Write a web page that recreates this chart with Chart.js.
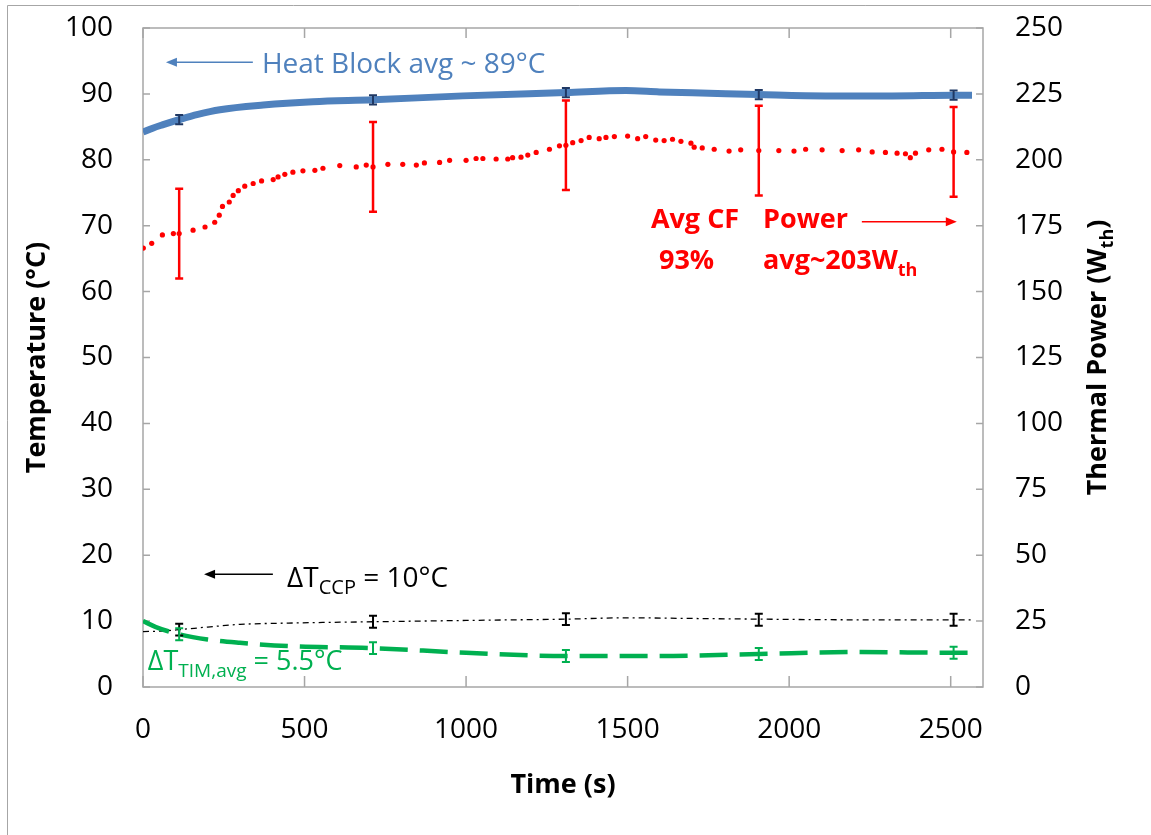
<!DOCTYPE html>
<html>
<head>
<meta charset="utf-8">
<script src="https://cdn.jsdelivr.net/npm/chart.js@4"></script>
<style>
  body { margin: 0; background: #fff; }
  #wrap { width: 1151px; height: 835px; position: relative; }
</style>
</head>
<body>
<div id="wrap"><canvas id="chart"></canvas></div>
<script>
// axis ticks
const xTicks = [0, 500, 1000, 1500, 2000, 2500];

// heat block temperature (°C)
const heatTime = [0, 30, 60, 112, 170, 238, 372, 526, 712, 990, 1309, 1495, 1598, 1752, 1906, 2113, 2318, 2509, 2566];
const heatTemp = [84.2, 84.8, 85.3, 86.1, 86.9, 87.6, 88.3, 88.8, 89.1, 89.7, 90.2, 90.5, 90.3, 90.1, 89.9, 89.7, 89.7, 89.8, 89.8];

// thermal power (W_th), right axis
const powerTime = [1, 27, 60, 94, 112, 155, 192, 222, 236, 246, 267, 279, 295, 315, 341, 367, 403, 418, 439, 464,
  495, 532, 557, 609, 660, 691, 712, 758, 804, 846, 871, 918, 949, 1000, 1031, 1052, 1093, 1129, 1144, 1170,
  1191, 1217, 1258, 1289, 1309, 1330, 1356, 1381, 1412, 1433, 1459, 1500, 1531, 1556, 1587, 1613, 1639, 1665,
  1696, 1706, 1731, 1768, 1814, 1850, 1906, 1968, 2015, 2051, 2102, 2164, 2215, 2257, 2298, 2334, 2360, 2375,
  2391, 2432, 2473, 2509, 2550];
const powerW = [166.5, 168.3, 171.5, 172, 172, 173.3, 174.5, 176.3, 179, 182.3, 184, 186.5, 188.3, 190, 191, 192, 192.5, 193.5, 194.5, 195.3,
  195.8, 196, 196.8, 197.8, 197.3, 198, 197.3, 198.3, 198.3, 198, 198.8, 199, 199.8, 199.8, 200.5, 200.5, 200.3, 200.3, 200.8, 201,
  201.8, 202.8, 204, 205.3, 205.5, 206.5, 207.3, 208.5, 208, 208.5, 208.8, 209, 208, 208.8, 207.5, 207.3, 207.8, 207,
  206.3, 204.8, 204.5, 204, 203.3, 203.8, 203.5, 203.5, 203.3, 204, 203.8, 203.5, 203.8, 203, 202.8, 202.5, 202.3, 200.8,
  202.5, 203.8, 204, 203, 202.8];

// delta T CCP (°C)
const ccpTime = [0, 60, 112, 200, 300, 450, 712, 1000, 1309, 1500, 1700, 1906, 2200, 2509, 2570];
const ccpTemp = [8.4, 8.5, 8.7, 9.1, 9.5, 9.7, 9.9, 10.1, 10.3, 10.5, 10.4, 10.3, 10.2, 10.2, 10.2];

// delta T TIM (°C)
const timTime = [0, 40, 112, 200, 300, 450, 712, 1000, 1309, 1600, 1906, 2200, 2509, 2570];
const timTemp = [10.0, 9.1, 8.0, 7.2, 6.7, 6.2, 5.9, 5.2, 4.7, 4.7, 5.0, 5.3, 5.2, 5.2];

// error bars
const errTime = [112, 712, 1309, 1906, 2509];
const heatErrMid = [86.1, 89.1, 90.2, 89.9, 89.8];
const heatErr = 0.7;
const powerErrMid = [172, 197.3, 205.5, 203.5, 203];
const powerErr = 17;
const ccpErrMid = [8.7, 9.9, 10.3, 10.2, 10.2];
const ccpErr = 0.9;
const timErrMid = [8.0, 5.9, 4.7, 5.0, 5.2];
const timErr = 0.9;

const FONT = '"Open Sans", sans-serif';
const BLUE = '#4F81BD', RED = '#FF0000', GREEN = '#00B050';

function pts(xs, ys) { return xs.map((x, i) => ({ x: x, y: ys[i] })); }

function drawRich(ctx, parts, x, y, size, subSize, color, bold) {
    ctx.fillStyle = color;
    ctx.textBaseline = 'alphabetic';
    ctx.textAlign = 'left';
    parts.forEach(p => {
        const sz = p.sub ? subSize : size;
        ctx.font = (bold ? 'bold ' : '') + sz + 'px ' + FONT;
        ctx.fillText(p.t, x, p.sub ? y + size * 0.25 : y);
        x += ctx.measureText(p.t).width;
    });
}

function richWidth(ctx, parts, size, subSize, bold) {
    let w = 0;
    parts.forEach(p => {
        ctx.font = (bold ? 'bold ' : '') + (p.sub ? subSize : size) + 'px ' + FONT;
        w += ctx.measureText(p.t).width;
    });
    return w;
}

function arrow(ctx, x1, y, x2, color) {
    const dir = x2 > x1 ? 1 : -1;
    ctx.strokeStyle = color;
    ctx.fillStyle = color;
    ctx.lineWidth = 1.5;
    ctx.beginPath();
    ctx.moveTo(x1, y);
    ctx.lineTo(x2 - dir * 8, y);
    ctx.stroke();
    ctx.beginPath();
    ctx.moveTo(x2, y);
    ctx.lineTo(x2 - dir * 11, y - 4.5);
    ctx.lineTo(x2 - dir * 11, y + 4.5);
    ctx.closePath();
    ctx.fill();
}

const framePlugin = {
    id: 'frame',
    beforeDatasetsDraw(chart) {
        const ctx = chart.ctx;
        const { left, right, top, bottom } = chart.chartArea;
        const sx = chart.scales.x, sy = chart.scales.y, sy2 = chart.scales.y2;
        ctx.save();
        ctx.strokeStyle = '#A6A6A6';
        ctx.lineWidth = 1.5;
        ctx.strokeRect(left, top, right - left, bottom - top);
        ctx.beginPath();
        sx.ticks.forEach(t => {
            const px = sx.getPixelForValue(t.value);
            ctx.moveTo(px, bottom); ctx.lineTo(px, bottom - 11);
            ctx.moveTo(px, top); ctx.lineTo(px, top + 10);
        });
        sy.ticks.forEach(t => {
            const py = sy.getPixelForValue(t.value);
            ctx.moveTo(left, py); ctx.lineTo(left + 7, py);
        });
        sy2.ticks.forEach(t => {
            const py = sy2.getPixelForValue(t.value);
            ctx.moveTo(right, py); ctx.lineTo(right - 7, py);
        });
        ctx.stroke();
        // outer picture border
        ctx.lineWidth = 1;
        ctx.beginPath();
        ctx.moveTo(7.5, 835); ctx.lineTo(7.5, 5.5); ctx.lineTo(1151, 5.5);
        ctx.stroke();
        ctx.restore();
    },
    afterDatasetsDraw(chart) {
        const ctx = chart.ctx;
        const sx = chart.scales.x, sy = chart.scales.y, sy2 = chart.scales.y2;
        function bars(mids, err, scale, color, width) {
            ctx.strokeStyle = color;
            ctx.lineWidth = width;
            ctx.beginPath();
            errTime.forEach((t, i) => {
                const px = sx.getPixelForValue(t);
                const y1 = scale.getPixelForValue(mids[i] + err);
                const y2 = scale.getPixelForValue(mids[i] - err);
                ctx.moveTo(px, y1); ctx.lineTo(px, y2);
                ctx.moveTo(px - 4, y1); ctx.lineTo(px + 4, y1);
                ctx.moveTo(px - 4, y2); ctx.lineTo(px + 4, y2);
            });
            ctx.stroke();
        }
        ctx.save();
        bars(powerErrMid, powerErr, sy2, RED, 2.5);
        bars(ccpErrMid, ccpErr, sy, '#000000', 2);
        bars(timErrMid, timErr, sy, GREEN, 2);
        bars(heatErrMid, heatErr, sy, '#1F3864', 2);
        ctx.restore();
    },
    afterDraw(chart) {
        const ctx = chart.ctx;
        const sx = chart.scales.x, sy = chart.scales.y;
        const X = v => sx.getPixelForValue(v), Y = v => sy.getPixelForValue(v);
        ctx.save();

        // heat block annotation
        drawRich(ctx, [{ t: 'Heat Block avg ~ 89°C' }], X(368), Y(93.2), 28, 19, BLUE, false);
        arrow(ctx, X(340), Y(94.8), X(71), BLUE);

        // delta T CCP
        drawRich(ctx, [{ t: '\u0394T' }, { t: 'CCP', sub: true }, { t: ' = 10°C' }], X(446), Y(15.2), 28, 20, '#000000', false);
        arrow(ctx, X(402), Y(17.1), X(189), '#000000');

        // delta T TIM
        drawRich(ctx, [{ t: '\u0394T' }, { t: 'TIM,avg', sub: true }, { t: ' = 5.5°C' }], X(15), Y(2.6), 27, 19, GREEN, false);

        // red notes
        drawRich(ctx, [{ t: 'Avg CF' }], X(1572), Y(69.7), 27, 18, RED, true);
        drawRich(ctx, [{ t: '93%' }], X(1597), Y(63.4), 27, 18, RED, true);
        drawRich(ctx, [{ t: 'Power' }], X(1919), Y(69.7), 27, 18, RED, true);
        drawRich(ctx, [{ t: 'avg~203W' }, { t: 'th', sub: true }], X(1919), Y(63.4), 27, 18, RED, true);
        arrow(ctx, X(2225), Y(70.6), X(2519), RED);

        // axis titles
        const ca = chart.chartArea;
        const midY = (ca.top + ca.bottom) / 2;
        ctx.font = 'bold 27px ' + FONT;
        ctx.fillStyle = '#000';
        ctx.textAlign = 'center';
        ctx.textBaseline = 'middle';
        ctx.fillText('Time (s)', (ca.left + ca.right) / 2, ca.bottom + 98);

        ctx.save();
        ctx.translate(37, midY);
        ctx.rotate(-Math.PI / 2);
        ctx.fillText('Temperature (°C)', 0, 0);
        ctx.restore();

        const rParts = [{ t: 'Thermal Power (W' }, { t: 'th', sub: true }, { t: ')' }];
        ctx.save();
        ctx.translate(1106, midY);
        ctx.rotate(-Math.PI / 2);
        const w = richWidth(ctx, rParts, 27, 18, true);
        drawRich(ctx, rParts, -w / 2, 0, 27, 18, '#000', true);
        ctx.restore();

        ctx.restore();
    }
};

const tickFont = { family: FONT, size: 28 };

function fixV(width) {
    return function (s) {
        s.width = width;
        s.paddingTop = 0;
        s.paddingBottom = 0;
    };
}

new Chart(document.getElementById('chart'), {
    type: 'line',
    data: {
        datasets: [
            {
                label: 'Heat Block',
                data: pts(heatTime, heatTemp),
                borderColor: BLUE,
                borderWidth: 7,
                pointRadius: 0,
                cubicInterpolationMode: 'monotone',
                yAxisID: 'y'
            },
            {
                label: 'dT TIM',
                data: pts(timTime, timTemp),
                borderColor: GREEN,
                borderWidth: 4.5,
                borderDash: [28, 12],
                pointRadius: 0,
                cubicInterpolationMode: 'monotone',
                yAxisID: 'y'
            },
            {
                label: 'dT CCP',
                data: pts(ccpTime, ccpTemp),
                borderColor: '#000000',
                borderWidth: 1.3,
                borderDash: [6, 4, 2, 4],
                pointRadius: 0,
                cubicInterpolationMode: 'monotone',
                yAxisID: 'y'
            },
            {
                label: 'Power',
                data: pts(powerTime, powerW),
                showLine: false,
                backgroundColor: RED,
                borderColor: RED,
                pointRadius: 2.6,
                pointBorderWidth: 0,
                yAxisID: 'y2'
            }
        ]
    },
    options: {
        responsive: true,
        maintainAspectRatio: false,
        animation: false,
        layout: { padding: { top: 28, left: 0, right: 0, bottom: 0 } },
        plugins: {
            legend: { display: false },
            tooltip: { enabled: false }
        },
        scales: {
            x: {
                type: 'linear',
                min: 0,
                max: 2600,
                afterFit(s) { s.height = 148; s.paddingLeft = 0; s.paddingRight = 0; },
                afterBuildTicks(s) { s.ticks = xTicks.map(v => ({ value: v })); },
                grid: { display: false, drawTicks: false },
                border: { display: false },
                ticks: { color: '#000', font: tickFont, padding: 26, maxRotation: 0, autoSkip: false,
                         callback: v => String(v) }
            },
            y: {
                position: 'left',
                min: 0,
                max: 100,
                afterFit: fixV(143),
                grid: { display: false, drawTicks: false },
                border: { display: false },
                ticks: { stepSize: 10, color: '#000', font: tickFont, padding: 30 }
            },
            y2: {
                position: 'right',
                min: 0,
                max: 250,
                afterFit: fixV(168),
                grid: { display: false, drawTicks: false },
                border: { display: false },
                ticks: { stepSize: 25, color: '#000', font: tickFont, padding: 32 }
            }
        }
    },
    plugins: [framePlugin]
});
</script>
</body>
</html>
